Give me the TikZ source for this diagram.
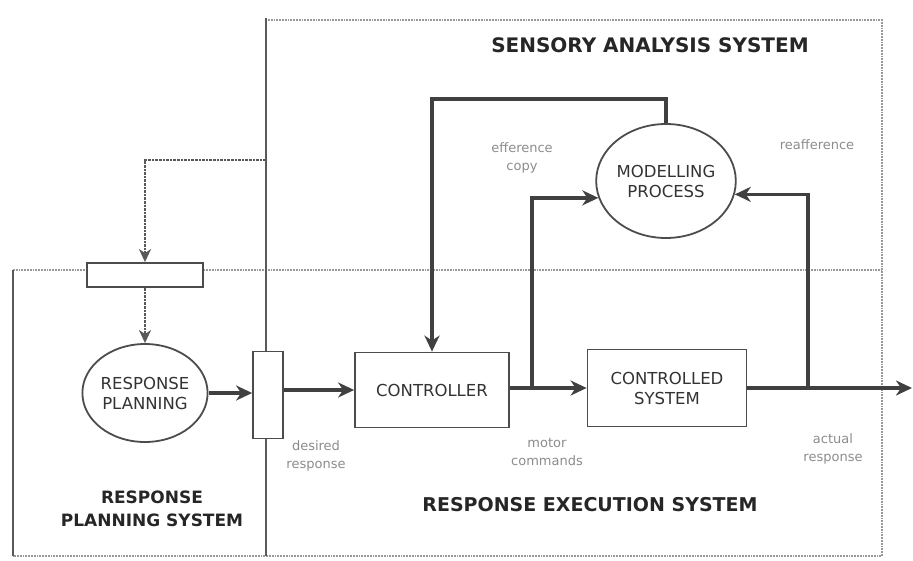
\documentclass[tikz,border=0pt]{standalone}
\usepackage{fontspec}
\setmainfont{DejaVu Sans}
\usetikzlibrary{arrows.meta,shapes.geometric}
\begin{document}
\begin{tikzpicture}[x=1pt,y=-1pt,
  region/.style={draw=black!40, line width=1.8pt, densely dotted},
  divider/.style={draw=black!65, line width=2pt},
  blk/.style={draw=black!70, line width=1.8pt, fill=white, text=black!80, align=center, inner sep=0pt,
    font=\fontsize{16.5}{20}\selectfont},
  ell/.style={ellipse, draw=black!70, line width=1.8pt, fill=white, text=black!80, align=center, inner sep=0pt,
    font=\fontsize{16.5}{20}\selectfont},
  flow/.style={draw=black!75, line width=3.5pt, -{Stealth[length=16pt,width=15pt,inset=5pt]}},
  dotflow/.style={draw=black!65, line width=2.6pt, densely dotted, -{Stealth[length=13pt,width=12pt,inset=4pt]}},
  lbl/.style={text=black!45, align=center, font=\fontsize{13}{18}\selectfont},
  ttl/.style={text=black!85, align=center, font=\bfseries\fontsize{20}{24}\selectfont}]
\useasboundingbox (0,0) rectangle (913,560);

% regions
\draw[region] (268,20) -- (882,20) -- (882,556) -- (268,556);
\draw[region] (268,556) -- (13,556);
\draw[region] (13,270) -- (882,270);
\draw[divider] (13,270) -- (13,556);
\draw[divider] (266,18) -- (266,556);

% nodes
\node[blk, minimum width=116pt, minimum height=24pt] (store) at (145,275) {};
\node[ell, minimum width=124pt, minimum height=98pt] (rp) at (145,393) {RESPONSE\\PLANNING};
\node[blk, minimum width=30pt, minimum height=87pt] (ds) at (268,395) {};
\node[blk, minimum width=154pt, minimum height=75pt] (ctrl) at (432,390) {CONTROLLER};
\node[blk, minimum width=159pt, minimum height=77pt] (cs) at (667,388) {CONTROLLED\\SYSTEM};
\node[ell, minimum width=130pt, minimum height=114pt] (mp) at (666,181) {MODELLING\\PROCESS};

\coordinate (tap) at (266,160);
\coordinate (b1) at (532,388);
\coordinate (b2) at (808,388);
\coordinate (out) at (912,388);

% connectors
\draw[dotflow] (tap) -| (store.north);
\draw[dotflow] (store.south) -- (rp.north);
\draw[flow] (rp.east) -- (rp.east -| ds.west);
\draw[flow] (ds.east |- ctrl.west) -- (ctrl.west);
\draw[flow] (ctrl.east |- cs.west) -- (cs.west);
\draw[flow] (cs.east) -- (out);
\draw[flow] (b1) |- (mp.194);
\draw[flow] (b2) |- (mp.349);
\draw[flow] (mp.north) -- ++(0,-24) -| (ctrl.north);

% labels
\node[lbl] (l1) at (522,158) {efference\\copy};
\node[lbl] (l2) at (817,145) {reafference};
\node[lbl] (l3) at (547,452) {motor\\commands};
\node[lbl] (l4) at (833,449) {actual\\response};
\node[lbl] (l5) at (316,456) {desired\\response};

\node[ttl] (t1) at (650,45) {SENSORY ANALYSIS SYSTEM};
\node[ttl, font=\bfseries\fontsize{17}{23}\selectfont] (t2) at (152,509) {RESPONSE\\PLANNING SYSTEM};
\node[ttl, font=\bfseries\fontsize{19}{24}\selectfont] (t3) at (590,505) {RESPONSE EXECUTION SYSTEM};
\end{tikzpicture}
\end{document}
